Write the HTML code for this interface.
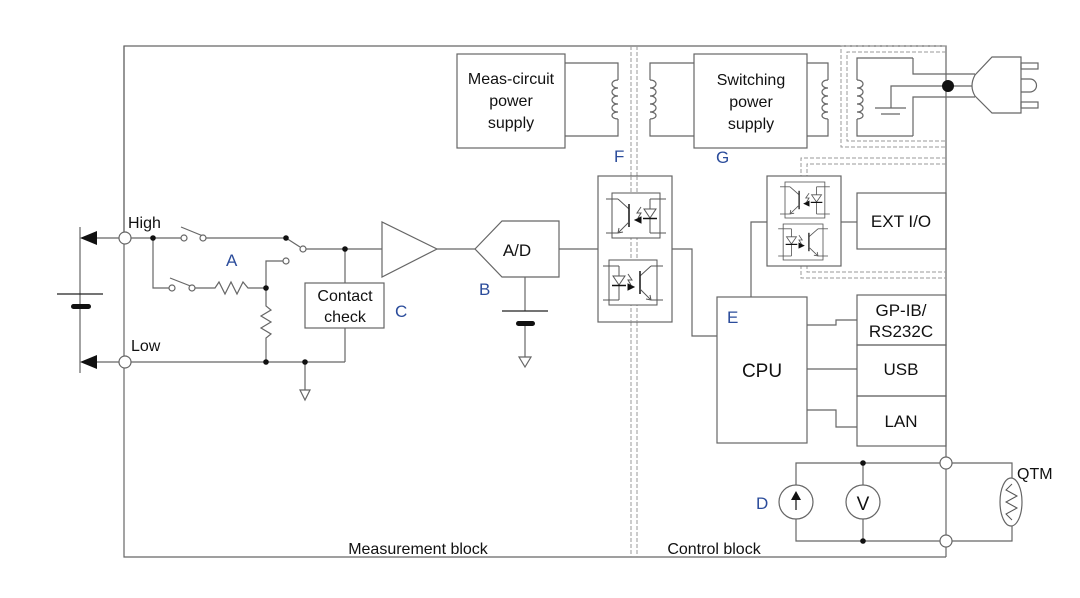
<!DOCTYPE html>
<html><head><meta charset="utf-8"><style>
html,body{margin:0;padding:0;background:#fff}
svg{display:block}
text{font-family:"Liberation Sans",Arial,sans-serif;fill:#111}
.b{fill:#2b4c9b}
</style></head><body>
<svg width="1080" height="598" viewBox="0 0 1080 598" xmlns="http://www.w3.org/2000/svg">
<defs>
<g id="opto" stroke="#555" stroke-width="1" fill="none">
  <rect x="0" y="0" width="48" height="45" fill="#fff"/>
  <line x1="-6" y1="6" x2="6" y2="6"/><line x1="6" y1="6" x2="17" y2="16"/>
  <line x1="17" y1="11" x2="17" y2="34" stroke-width="1.6" stroke="#222"/>
  <line x1="17" y1="29" x2="6" y2="40"/><line x1="6" y1="40" x2="-6" y2="40"/>
  <path d="M6 40 l1 -5 M6 40 l5 -1"/>
  <path d="M29 14 l-4 6 l4 0 l-3 5" />
  <path d="M23 27 l6 -3 l0 6 z" fill="#111" stroke="#111"/>
  <line x1="38" y1="6" x2="38" y2="40"/>
  <line x1="38" y1="6" x2="54" y2="6"/><line x1="38" y1="40" x2="54" y2="40"/>
  <path d="M32 16 h12 l-6 9 z" fill="#fff"/>
  <line x1="31" y1="25.5" x2="45" y2="25.5" stroke="#111" stroke-width="1.5"/>
</g>
</defs>
<g stroke="#666" stroke-width="1.2" fill="none">
<polyline points="946,557 124,557 124,46 946,46 946,557"/>
<g stroke="#999" stroke-width="1" stroke-dasharray="4,2">
<line x1="631" y1="46" x2="631" y2="557"/><line x1="637" y1="46" x2="637" y2="557"/>
<polyline points="946,46 841,46 841,147 946,147"/>
<polyline points="946,52 847,52 847,141 946,141"/>
<polyline points="946,158 801,158 801,278 946,278"/>
<polyline points="946,164 807,164 807,272 946,272"/>
</g>
<rect x="457" y="54" width="108" height="94" fill="#fff"/>
<rect x="694" y="54" width="113" height="94" fill="#fff"/>
<polyline points="565,63 618,63 618,80"/><polyline points="565,136 618,136 618,119"/>
<polyline points="694,63 650,63 650,80"/><polyline points="694,136 650,136 650,119"/>
<polyline points="807,63 828,63 828,80"/><polyline points="807,136 828,136 828,119"/>
<polyline points="913,58 857,58 857,80"/><polyline points="913,136 857,136 857,119"/>
<path d="M618 80 c-8 0 -8 8 0 8 c-8 0 -8 8 0 8 c-8 0 -8 8 0 8 c-8 0 -8 8 0 8 c-8 0 -8 7 0 7"/>
<path d="M650 80 c8 0 8 8 0 8 c8 0 8 8 0 8 c8 0 8 8 0 8 c8 0 8 8 0 8 c8 0 8 7 0 7"/>
<path d="M828 80 c-8 0 -8 8 0 8 c-8 0 -8 8 0 8 c-8 0 -8 8 0 8 c-8 0 -8 8 0 8 c-8 0 -8 7 0 7"/>
<path d="M857 80 c8 0 8 8 0 8 c8 0 8 8 0 8 c8 0 8 8 0 8 c8 0 8 8 0 8 c8 0 8 7 0 7"/>
<polyline points="913,58 913,74 975,74"/><polyline points="913,136 913,97 975,97"/>
<polyline points="891,108 891,86 976,86"/>
<line x1="875" y1="108" x2="906" y2="108"/><line x1="881" y1="114" x2="900" y2="114"/>
<path d="M1021 57 H992 L975 75 Q969 86 975 96 L992 113 H1021 Z" fill="#fff"/>
<rect x="1021" y="63" width="17" height="6"/><rect x="1021" y="102" width="17" height="6"/>
<path d="M1021 79 H1030 A6.5 6.5 0 0 1 1030 92 H1021"/>
<line x1="80" y1="227" x2="80" y2="373"/>
<line x1="86" y1="238" x2="119" y2="238"/><line x1="86" y1="362" x2="119" y2="362"/>
<line x1="124" y1="46" x2="124" y2="232"/>
<polyline points="131,238 153,238 153,288 169,288"/>
<line x1="153" y1="238" x2="181" y2="238"/>
<line x1="181" y1="227" x2="203" y2="236"/>
<line x1="206" y1="238" x2="286" y2="238"/>
<line x1="286" y1="238" x2="300" y2="247"/>
<line x1="306" y1="249" x2="382" y2="249"/>
<line x1="170" y1="278" x2="193" y2="287"/>
<polyline points="195,288 215,288 219,282 225,294 231,282 237,294 243,282 248,288 266,288"/>
<polyline points="266,288 266,261 283,261"/>
<polyline points="266,288 266,306 271,310 261,316 271,322 261,328 271,334 266,338 266,362"/>
<line x1="131" y1="362" x2="345" y2="362"/>
<polyline points="345,249 345,283"/><polyline points="345,328 345,362"/>
<line x1="305" y1="362" x2="305" y2="390"/>
<rect x="305" y="283" width="79" height="45" fill="#fff"/>
<polygon points="382,222 382,277 437,249" fill="#fff"/>
<line x1="437" y1="249" x2="475" y2="249"/>
<polygon points="475,249 502,221 559,221 559,277 502,277" fill="#fff"/>
<line x1="525" y1="277" x2="525" y2="311"/>
<line x1="525" y1="323" x2="525" y2="357"/>
<line x1="559" y1="249" x2="598" y2="249"/>
<polyline points="672,249 692,249 692,336 717,336"/>
<rect x="717" y="297" width="90" height="146" fill="#fff"/>
<polyline points="751,297 751,222 767,222"/>
<rect x="857" y="295" width="89" height="50"/><rect x="857" y="345" width="89" height="51"/><rect x="857" y="396" width="89" height="50"/>
<polyline points="807,325 836,325 836,320 857,320"/>
<line x1="807" y1="369" x2="857" y2="369"/>
<polyline points="807,410 836,410 836,427 857,427"/>
<line x1="841" y1="222" x2="857" y2="222"/>
<rect x="857" y="193" width="89" height="56"/>
<polyline points="940,463 796,463 796,485"/><polyline points="940,541 796,541 796,519"/>
<line x1="863" y1="463" x2="863" y2="485"/><line x1="863" y1="519" x2="863" y2="541"/>
<polyline points="952,463 1012,463 1012,478"/><polyline points="952,541 1012,541 1012,526"/>
</g>
<g stroke="#666" stroke-width="1.2" fill="#fff">
<rect x="598" y="176" width="74" height="146"/>
<rect x="767" y="176" width="74" height="90"/>
</g>
<g stroke="#999" stroke-width="1" stroke-dasharray="4,2">
<line x1="631" y1="176" x2="631" y2="322"/><line x1="637" y1="176" x2="637" y2="322"/>
</g>
<use href="#opto" transform="translate(612,193)"/>
<use href="#opto" transform="translate(657,260) scale(-1,1)"/>
<use href="#opto" transform="translate(785,182) scale(0.83,0.8)"/>
<use href="#opto" transform="translate(823,224) scale(-0.83,0.8)"/>
<g stroke="#666" stroke-width="1.2" fill="#fff">
<circle cx="125" cy="238" r="6"/><circle cx="125" cy="362" r="6"/>
<circle cx="184" cy="238" r="3"/><circle cx="203" cy="238" r="3"/>
<circle cx="303" cy="249" r="3"/><circle cx="286" cy="261" r="3"/>
<circle cx="172" cy="288" r="3"/><circle cx="192" cy="288" r="3"/>
<circle cx="946" cy="463" r="6"/><circle cx="946" cy="541" r="6"/>
<circle cx="796" cy="502" r="17"/><circle cx="863" cy="502" r="17"/>
<ellipse cx="1011" cy="502" rx="11" ry="24"/>
<polygon points="300,390 310,390 305,400"/>
<polygon points="519,357 531,357 525,367"/>
</g>
<polyline points="1012,484 1006,490 1017,496 1006,502 1017,508 1006,514 1012,520" stroke="#555" fill="none"/>
<g fill="#111">
<circle cx="153" cy="238" r="2.8"/><circle cx="286" cy="238" r="2.8"/><circle cx="345" cy="249" r="2.8"/>
<circle cx="266" cy="288" r="2.8"/><circle cx="266" cy="362" r="2.8"/><circle cx="305" cy="362" r="2.8"/>
<circle cx="863" cy="463" r="2.8"/><circle cx="863" cy="541" r="2.8"/>
<circle cx="948" cy="86" r="6"/>
<polygon points="80,238 97,231 97,245"/><polygon points="80,362 97,355 97,369"/>
<rect x="71" y="304" width="20" height="5" rx="2.5"/>
<rect x="516" y="321" width="19" height="5" rx="2.5"/>
</g>
<g stroke="#222" stroke-width="1.3">
<line x1="57" y1="294" x2="103" y2="294"/><line x1="502" y1="311" x2="548" y2="311"/>
<line x1="796" y1="510" x2="796" y2="496"/>
</g>
<polygon points="796,491 791,500 801,500" fill="#111"/>
<g font-size="16" text-anchor="middle">
<text x="511" y="84">Meas-circuit</text><text x="511" y="106">power</text><text x="511" y="128">supply</text>
<text x="751" y="85">Switching</text><text x="751" y="107">power</text><text x="751" y="129">supply</text>
<text x="345" y="301">Contact</text><text x="345" y="322">check</text>
<text x="517" y="256" font-size="17">A/D</text>
<text x="901" y="227" font-size="17">EXT I/O</text>
<text x="901" y="316" font-size="17">GP-IB/</text><text x="901" y="337" font-size="17">RS232C</text>
<text x="901" y="375" font-size="17">USB</text><text x="901" y="427" font-size="17">LAN</text>
<text x="762" y="377" font-size="19">CPU</text>
<text x="863" y="510" font-size="19">V</text>
<text x="418" y="554">Measurement block</text>
<text x="714" y="554">Control block</text>
</g>
<g font-size="16">
<text x="128" y="228">High</text><text x="131" y="351">Low</text>
<text x="1017" y="479">QTM</text>
</g>
<g font-size="17">
<text x="226" y="266" class="b">A</text><text x="395" y="317" class="b">C</text>
<text x="479" y="295" class="b">B</text><text x="614" y="162" class="b">F</text>
<text x="716" y="163" class="b">G</text><text x="727" y="323" class="b">E</text>
<text x="756" y="509" class="b">D</text>
</g>
</svg>
</body></html>
